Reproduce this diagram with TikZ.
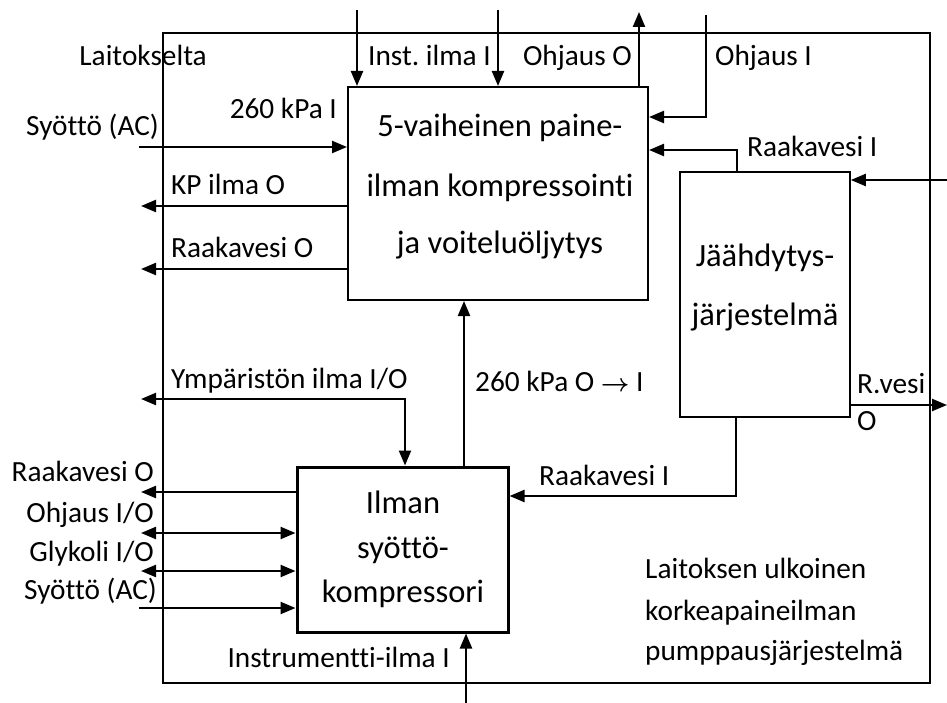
\documentclass[tikz,border=0pt]{standalone}
\usepackage{fontspec}
\setmainfont{Carlito}[Ligatures=NoCommon]
\frenchspacing
\usetikzlibrary{arrows.meta}
\begin{document}
\begin{tikzpicture}[x=1pt,y=-1pt,
  lbl/.style={inner sep=0pt, font=\fontsize{29.3}{35}\selectfont},
  boxtxt/.style={inner sep=0pt, anchor=base, font=\fontsize{32.5}{39}\selectfont},
  block/.style={draw, inner sep=0pt, line width=2pt},
  flow/.style={line width=2.3pt, -{Triangle[length=15pt,width=12pt]}},
  flowboth/.style={line width=2.3pt, {Triangle[length=15pt,width=12pt]}-{Triangle[length=15pt,width=12pt]}}
]
\useasboundingbox (0,0) rectangle (947,703);

% system boundary and the three blocks
\node[block, minimum width=767pt, minimum height=650pt] (frame) at (546.5,358) {};
\node[block, minimum width=300pt, minimum height=213pt] (comp) at (498,193.5) {};
\node[block, line width=1.6pt, minimum width=170pt, minimum height=245pt] (cool) at (765,294.5) {};
\node[block, line width=3pt, minimum width=211pt, minimum height=165pt] (ilman) at (402.5,549.5) {};

% block texts
\node[boxtxt] (compA) at (500,137) {5-vaiheinen paine-};
\node[boxtxt] (compB) at (500,197) {ilman kompressointi};
\node[boxtxt] (compC) at (500,254) {ja voiteluöljytys};
\node[boxtxt] (coolA) at (765,266) {Jäähdytys-};
\node[boxtxt] (coolB) at (765,325) {järjestelmä};
\node[boxtxt] (ilmA) at (403,513) {Ilman};
\node[boxtxt] (ilmB) at (403,558) {syöttö-};
\node[boxtxt] (ilmC) at (403,602) {kompressori};

% free ends and bend levels of the connectors
\coordinate (laitIn) at (357,10);
\coordinate (instIn) at (498,10);
\coordinate (ohjOut) at (639,12);
\coordinate (ohjIn) at (706,15);
\coordinate (ohjInY) at (0,117);
\coordinate (rvTopX) at (737,0);
\coordinate (rvTopY) at (0,150);
\coordinate (coolIn) at (947,180);
\coordinate (rvOut) at (947,405);
\coordinate (acTop) at (139,147);
\coordinate (kpOut) at (141,206);
\coordinate (rvOutA) at (141,269);
\coordinate (kpaX) at (464,0);
\coordinate (ympOut) at (141,399);
\coordinate (ympX) at (405,0);
\coordinate (rvOutB) at (141,492);
\coordinate (ohjIO) at (141,533);
\coordinate (glyIO) at (141,571);
\coordinate (acLow) at (139,608);
\coordinate (instrIn) at (466,703);
\coordinate (rvLowX) at (736,0);
\coordinate (rvLowY) at (0,496);

% connectors of the compression block
\draw[flow] (laitIn) -- (laitIn |- comp.north);
\draw[flow] (instIn) -- (instIn |- comp.north);
\draw[flow] (ohjOut |- comp.north) -- (ohjOut);
\draw[flow] (ohjIn) |- (comp.east |- ohjInY);
\draw[flow] (rvTopX |- cool.north) |- (comp.east |- rvTopY);
\draw[flow] (acTop) -- (comp.west |- acTop);
\draw[flow] (comp.west |- kpOut) -- (kpOut);
\draw[flow] (comp.west |- rvOutA) -- (rvOutA);
\draw[flow] (kpaX |- ilman.north) -- (kpaX |- comp.south);

% connectors of the cooling block
\draw[flow] (coolIn) -- (cool.east |- coolIn);
\draw[flow] (cool.east |- rvOut) -- (rvOut);
\draw[flow] (rvLowX |- cool.south) |- (ilman.east |- rvLowY);

% connectors of the feed compressor
\draw[flowboth] (ympOut) -| (ympX |- ilman.north);
\draw[flow] (ilman.west |- rvOutB) -- (rvOutB);
\draw[flowboth] (ohjIO) -- (ilman.west |- ohjIO);
\draw[flowboth] (glyIO) -- (ilman.west |- glyIO);
\draw[flow] (acLow) -- (ilman.west |- acLow);
\draw[flow] (instrIn) -- (instrIn |- ilman.south);

% connector labels
\node[lbl, anchor=base east] (tLait) at (207,66) {Laitokselta};
\node[lbl, anchor=base west] (tInst) at (368,66) {Inst. ilma I};
\node[lbl, anchor=base east] (tOhjO) at (632,66) {Ohjaus O};
\node[lbl, anchor=base west] (tOhjI) at (715,66) {Ohjaus I};
\node[lbl, anchor=base east] (tKpaI) at (337,119) {260 kPa I};
\node[lbl, anchor=base west] (tAcTop) at (26,136) {Syöttö (AC)};
\node[lbl, anchor=base west] (tKp) at (171,195) {KP ilma O};
\node[lbl, anchor=base west] (tRvO) at (171,258) {Raakavesi O};
\node[lbl, anchor=base west] (tRvI) at (747,157) {Raakavesi I};
\node[lbl, anchor=base west] (tRves) at (857,393) {R.vesi};
\node[lbl, anchor=base west] (tRvesO) at (857,430) {O};
\node[lbl, anchor=base west] (tYmp) at (171,388) {Ympäristön ilma I/O};
\node[lbl, anchor=base west] (tKpaO) at (475,391) {260 kPa O {\fontsize{27}{27}\selectfont\boldmath$\rightarrow$} I};
\node[lbl, anchor=base east] (tRvOB) at (154,481) {Raakavesi O};
\node[lbl, anchor=base east] (tOhjIO) at (154,522) {Ohjaus I/O};
\node[lbl, anchor=base east] (tGly) at (154,561) {Glykoli I/O};
\node[lbl, anchor=base east] (tAc) at (157,599) {Syöttö (AC)};
\node[lbl, anchor=base east] (tInstr) at (450,667) {Instrumentti-ilma I};
\node[lbl, anchor=base west] (tRvIB) at (539,485) {Raakavesi I};

% system name
\node[lbl, anchor=base west] (sysA) at (645,578) {Laitoksen ulkoinen};
\node[lbl, anchor=base west] (sysB) at (645,620) {korkeapaineilman};
\node[lbl, anchor=base west] (sysC) at (645,660) {pumppausjärjestelmä};
\end{tikzpicture}
\end{document}
